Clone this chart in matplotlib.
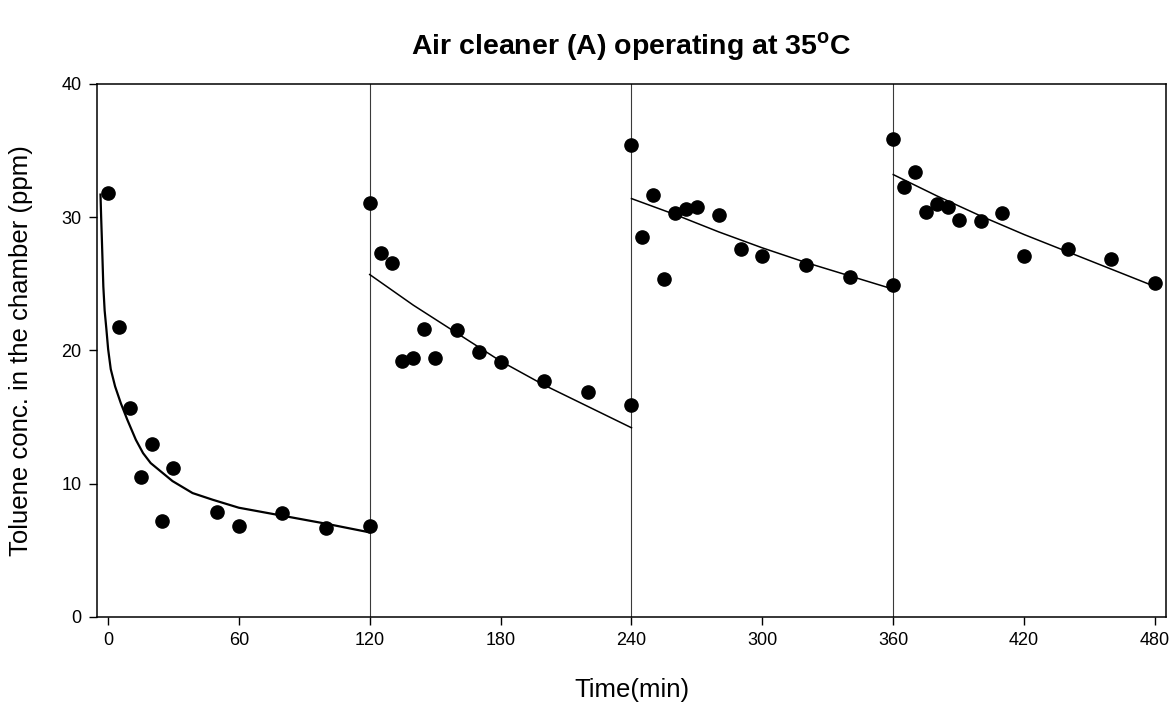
import matplotlib
matplotlib.use("Agg")
import matplotlib.pyplot as plt

plt.rcParams["font.family"] = ["Liberation Sans", "DejaVu Sans"]
plt.rcParams["mathtext.fontset"] = "custom"
plt.rcParams["mathtext.rm"] = "Liberation Sans"
plt.rcParams["mathtext.bf"] = "Liberation Sans:bold"

# Measured toluene concentration (ppm), one list per 120-min run
time_run1 = [0, 5, 10, 15, 20, 25, 30, 50, 60, 80, 100, 120]
conc_run1 = [31.8, 21.8, 15.7, 10.5, 13.0, 7.2, 11.2, 7.9, 6.8, 7.8, 6.7, 6.8]

time_run2 = [120, 125, 130, 135, 140, 145, 150, 160, 170, 180, 200, 220, 240]
conc_run2 = [31.1, 27.3, 26.6, 19.2, 19.4, 21.6, 19.4, 21.5, 19.9, 19.1, 17.7, 16.9, 15.9]

time_run3 = [240, 245, 250, 255, 260, 265, 270, 280, 290, 300, 320, 340, 360]
conc_run3 = [35.4, 28.5, 31.7, 25.4, 30.3, 30.6, 30.8, 30.2, 27.6, 27.1, 26.4, 25.5, 24.9]

time_run4 = [360, 365, 370, 375, 380, 385, 390, 400, 410, 420, 440, 460, 480]
conc_run4 = [35.9, 32.3, 33.4, 30.4, 31.0, 30.8, 29.8, 29.7, 30.3, 27.1, 27.6, 26.9, 25.1]

# Fitted decay curves for each run
fit_t1 = [-3.4, -3.1, -2.8, -2.1, -1.5, -0.7, 0.1, 1.3, 3.3, 5.9, 8.9, 12.8,
          16.1, 19.6, 29.6, 38.8, 48, 60, 80, 100, 120]
fit_c1 = [31.7, 30.0, 28.5, 24.8, 23.0, 21.6, 20.1, 18.6, 17.3, 16.05, 14.8, 13.3,
          12.3, 11.55, 10.2, 9.3, 8.8, 8.2, 7.6, 7.0, 6.35]

fit_t2 = [120, 140, 160, 180, 200, 220, 240]
fit_c2 = [25.7, 23.4, 21.3, 19.2, 17.4, 15.8, 14.2]

fit_t3 = [240, 260, 280, 300, 320, 340, 360]
fit_c3 = [31.4, 30.2, 28.9, 27.7, 26.6, 25.6, 24.6]

fit_t4 = [360, 380, 400, 420, 440, 460, 480]
fit_c4 = [33.2, 31.6, 30.1, 28.7, 27.4, 26.1, 24.8]

run_breaks = [120, 240, 360]
x_ticks = [0, 60, 120, 180, 240, 300, 360, 420, 480]
y_ticks = [0, 10, 20, 30, 40]

fig = plt.figure(figsize=(11.73, 7.04), dpi=100)
ax = fig.add_axes([0.0827, 0.1236, 0.9113, 0.7571])

for xb in run_breaks:
    ax.axvline(xb, color="#3a3a3a", linewidth=0.8, zorder=1)

ax.plot(fit_t1, fit_c1, color="black", linewidth=1.6, zorder=2)
for ft, fc in [(fit_t2, fit_c2), (fit_t3, fit_c3), (fit_t4, fit_c4)]:
    ax.plot(ft, fc, color="black", linewidth=1.1, zorder=2)

for t, c in [(time_run1, conc_run1), (time_run2, conc_run2),
             (time_run3, conc_run3), (time_run4, conc_run4)]:
    ax.plot(t, c, "o", color="black", markersize=9.5, zorder=3)

ax.set_xlim(-5, 485)
ax.set_ylim(0, 40)
ax.set_xticks(x_ticks)
ax.set_yticks(y_ticks)
ax.tick_params(direction="out", length=6, width=1, labelsize=13, pad=5)

for sp in ax.spines.values():
    sp.set_linewidth(1.1)

ax.set_xlabel("Time(min)", fontsize=18.5)
ax.xaxis.set_label_coords(0.5, -0.115)
ax.set_ylabel("Toluene conc. in the chamber (ppm)", fontsize=18.5)
ax.yaxis.set_label_coords(-0.071, 0.5)
ax.yaxis.label.set_va("center")

fig.text(0.5385, 0.934, r"Air cleaner (A) operating at 35$^{\mathbf{o}}$C",
         fontsize=20.5, fontweight="bold", ha="center", va="center")

fig.savefig("out.png", dpi=100)
